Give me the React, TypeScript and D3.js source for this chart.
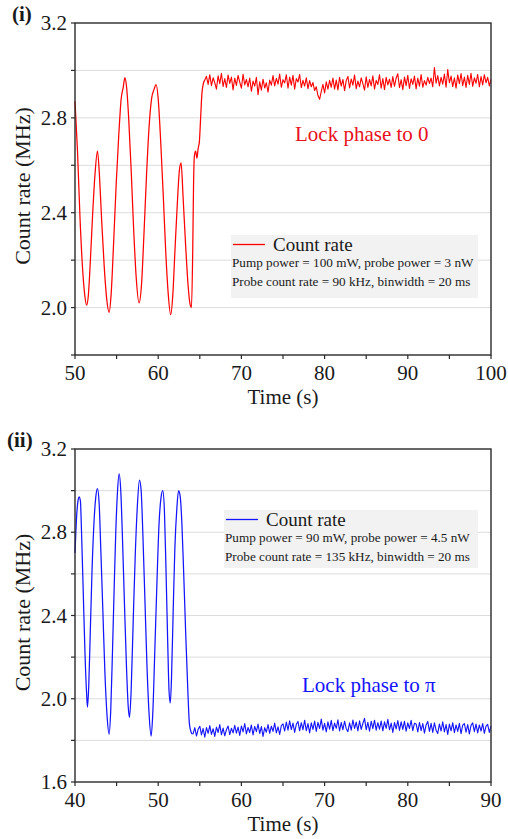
import React from "react";
import * as d3 from "d3";

// ---- Panel (i): lock phase to 0 ----
const oscTimesA = [
  50.0, 50.3, 50.6, 50.9, 51.15, 51.4, 51.6, 51.85, 52.1, 52.4, 52.7, 52.95, 53.2, 53.5, 53.8, 54.1,
  54.35, 54.65, 54.95, 55.25, 55.55, 55.8, 56.0, 56.2, 56.45, 56.75, 57.05, 57.35, 57.7, 58.0, 58.3,
  58.6, 58.9, 59.2, 59.5, 59.75, 60.0, 60.3, 60.6, 60.9, 61.2, 61.5, 61.75, 62.0, 62.3, 62.55, 62.75,
  63.0, 63.3, 63.6, 63.85, 64.0, 64.15, 64.25, 64.35, 64.5, 64.65, 64.8, 64.95, 65.1, 65.25, 65.4, 65.6,
];
const oscValuesA = [
  2.87, 2.66, 2.38, 2.17, 2.06, 2.01, 2.05, 2.2, 2.38, 2.56, 2.66, 2.55, 2.37, 2.18, 2.04, 1.98,
  2.06, 2.28, 2.52, 2.72, 2.88, 2.93, 2.97, 2.93, 2.8, 2.58, 2.33, 2.13, 2.02, 2.1, 2.32,
  2.56, 2.76, 2.88, 2.92, 2.94, 2.88, 2.7, 2.48, 2.24, 2.06, 1.97, 2.05, 2.23, 2.44, 2.58, 2.61,
  2.46, 2.26, 2.09, 2.01, 2.0, 2.24, 2.52, 2.64, 2.66, 2.63, 2.67, 2.7, 2.8, 2.9, 2.94, 2.96,
];
const lockStartA = 65.8;
const binStep = 0.2;
const lockValuesA = [
  2.975, 2.941, 2.982, 2.936, 2.969, 2.948, 2.921, 2.977, 2.944, 2.988,
  2.932, 2.966, 2.928, 2.981, 2.945, 2.972, 2.918, 2.968, 2.937, 2.979,
  2.951, 2.925, 2.984, 2.939, 2.962,
  2.931, 2.968, 2.912, 2.955, 2.934, 2.971, 2.898, 2.952, 2.917, 2.963,
  2.926, 2.948, 2.908, 2.959, 2.938,
  2.978, 2.935, 2.967, 2.942, 2.985, 2.929, 2.961, 2.947, 2.982, 2.925,
  2.972, 2.938, 2.979, 2.921, 2.966, 2.951, 2.983, 2.927, 2.958, 2.934,
  2.969, 2.923, 2.957, 2.931, 2.949, 2.915,
  2.931, 2.894, 2.878, 2.912, 2.941, 2.905, 2.952, 2.921, 2.958,
  2.929, 2.968, 2.921, 2.959, 2.918, 2.971, 2.934, 2.962, 2.915, 2.957,
  2.975, 2.926, 2.964, 2.938, 2.981, 2.923, 2.955, 2.931, 2.969, 2.944,
  2.917, 2.973, 2.928, 2.962, 2.935, 2.977, 2.921, 2.958, 2.941, 2.982,
  2.925, 2.966, 2.919, 2.971, 2.939, 2.963, 2.928, 2.974, 2.933, 2.968,
  2.986, 2.927, 2.961, 2.919, 2.972, 2.936, 2.979, 2.924, 2.965, 2.941,
  2.976, 2.922, 2.968, 2.934, 2.983, 2.929, 2.957, 2.938, 2.971, 2.945,
  2.968, 2.931, 3.012, 2.946, 2.978, 2.935, 2.971, 2.942, 2.985, 2.929,
  3.004, 2.948, 2.976, 2.932, 2.969, 2.925, 2.981, 2.944, 2.987, 2.936,
  2.972, 2.928, 2.979, 2.941, 2.988, 2.933, 2.969, 2.946, 2.983, 2.931,
  2.974, 2.939, 2.982, 2.948, 2.971, 2.935, 2.962,
];

// ---- Panel (ii): lock phase to pi ----
const oscTimesB = [
  40.0, 40.2, 40.4, 40.5, 40.65, 40.8, 41.0, 41.2, 41.4, 41.5, 41.65, 41.85, 42.05, 42.3, 42.5, 42.7,
  42.9, 43.1, 43.35, 43.6, 43.85, 44.1, 44.3, 44.5, 44.7, 44.9, 45.1, 45.3, 45.5, 45.7, 45.95, 46.2,
  46.4, 46.55, 46.75, 47.0, 47.25, 47.5, 47.75, 47.95, 48.15, 48.4, 48.65, 48.9, 49.15, 49.35, 49.6,
  49.85, 50.1, 50.35, 50.55, 50.75, 50.95, 51.15, 51.3, 51.45, 51.6, 51.8, 52.0, 52.25, 52.45, 52.65,
  52.85, 53.05, 53.3, 53.55, 53.75, 53.95, 54.1,
];
const oscValuesB = [
  2.7, 2.88, 2.96, 2.97, 2.95, 2.78, 2.5, 2.22, 2.02, 1.96, 2.06, 2.34, 2.62, 2.86, 2.97, 3.01,
  2.94, 2.72, 2.42, 2.12, 1.92, 1.83, 1.95, 2.22, 2.52, 2.8, 2.99, 3.08, 3.0, 2.78, 2.45, 2.14,
  1.96, 1.91, 2.04, 2.38, 2.7, 2.93, 3.05, 3.0, 2.8, 2.48, 2.16, 1.93, 1.82, 1.93, 2.24,
  2.56, 2.84, 2.97, 3.0, 2.9, 2.6, 2.26, 2.04, 1.98, 2.1, 2.42, 2.72, 2.92, 3.0, 2.97,
  2.84, 2.62, 2.32, 2.05, 1.88, 1.84, 1.83,
];
const lockStartB = 54.2;
const lockValuesB = [
  1.832, 1.861, 1.821, 1.853, 1.868, 1.826, 1.857, 1.815, 1.862, 1.834,
  1.871, 1.829, 1.856, 1.819, 1.864, 1.838, 1.876, 1.827, 1.859, 1.822,
  1.851, 1.869, 1.828, 1.858, 1.836,
  1.872, 1.835, 1.864, 1.824, 1.869, 1.841, 1.881, 1.831, 1.862, 1.838,
  1.874, 1.826, 1.867, 1.842, 1.878, 1.833, 1.866, 1.819, 1.861, 1.839,
  1.876, 1.834, 1.868, 1.843, 1.883, 1.836, 1.865, 1.829, 1.871,
  1.879, 1.845, 1.888, 1.849, 1.894, 1.852, 1.883, 1.838, 1.877, 1.891,
  1.846, 1.885, 1.851, 1.897, 1.847, 1.881, 1.836, 1.884, 1.853, 1.893,
  1.843, 1.887, 1.857, 1.902, 1.849, 1.882, 1.841, 1.889, 1.854, 1.896,
  1.847, 1.883, 1.858, 1.899, 1.845, 1.886, 1.851, 1.892, 1.856, 1.842,
  1.884, 1.849, 1.898, 1.857, 1.888, 1.846, 1.894, 1.853, 1.881, 1.906,
  1.851, 1.887, 1.844, 1.892, 1.856, 1.897, 1.849, 1.885, 1.854, 1.893,
  1.846, 1.889, 1.858, 1.901, 1.851, 1.883, 1.838, 1.886, 1.855, 1.895,
  1.848, 1.889, 1.853, 1.892, 1.844, 1.884, 1.857, 1.896, 1.847, 1.882,
  1.879, 1.841, 1.886, 1.847, 1.881, 1.835, 1.874, 1.891, 1.843, 1.882,
  1.838, 1.884, 1.849, 1.833, 1.879, 1.845, 1.889, 1.841, 1.876, 1.829,
  1.878, 1.846, 1.885, 1.837, 1.874, 1.843, 1.882, 1.832, 1.873, 1.881,
  1.839, 1.876, 1.831, 1.872, 1.884, 1.842, 1.878, 1.836, 1.874, 1.845,
  1.881, 1.834, 1.869, 1.877, 1.838, 1.868,
];

const xTicksA = [50, 60, 70, 80, 90, 100];
const yTicksA = [2.0, 2.4, 2.8, 3.2];
const xTicksB = [40, 50, 60, 70, 80, 90];
const yTicksB = [1.6, 2.0, 2.4, 2.8, 3.2];

const legendTitle = "Count rate";
const infoA = ["Pump power = 100 mW, probe power = 3 nW", "Probe count rate = 90 kHz, binwidth = 20 ms"];
const infoB = ["Pump power = 90 mW, probe power = 4.5 nW", "Probe count rate = 135 kHz, binwidth = 20 ms"];

const FONT = "'Liberation Serif', 'Times New Roman', serif";

type Pt = [number, number];

function oscSeries(ts: number[], vs: number[]): Pt[] {
  return ts.map((t, i) => [t, vs[i]] as Pt);
}

function lockSeries(start: number, lock: number[]): Pt[] {
  return lock.map((v, i) => [+(start + i * binStep).toFixed(2), v] as Pt);
}

interface PanelProps {
  tag: string;
  tagX: number;
  top: number;
  bottom: number;
  xDomain: [number, number];
  yDomain: [number, number];
  xTicks: number[];
  yTicks: number[];
  osc: Pt[];
  lock: Pt[];
  color: string;
  textColor: string;
  info: string[];
  legend: { x: number; y: number; w: number; h: number };
  note: string;
  noteX: number;
  noteY: number;
}

function Panel(p: PanelProps) {
  const left = 75;
  const right = 491;
  const x = d3.scaleLinear().domain(p.xDomain).range([left, right]);
  const y = d3.scaleLinear().domain(p.yDomain).range([p.bottom, p.top]);
  const smooth = d3
    .line<Pt>()
    .x((d) => x(d[0]))
    .y((d) => y(d[1]))
    .curve(d3.curveMonotoneX);
  const raw = d3
    .line<Pt>()
    .x((d) => x(d[0]))
    .y((d) => y(d[1]));

  const minorX = d3.range(p.xDomain[0], p.xDomain[1] + 0.001, 5);
  const minorY = d3.range(p.yDomain[0], p.yDomain[1] + 0.001, 0.2).map((v) => +v.toFixed(2));
  const grid = minorY.filter((v) => v > p.yDomain[0] + 0.01 && v < p.yDomain[1] - 0.01);
  const L = p.legend;
  const lockPath = [p.osc[p.osc.length - 1], ...p.lock];

  return (
    <g>
      {grid.map((v) => (
        <line key={"g" + v} x1={left} x2={right} y1={y(v)} y2={y(v)} stroke="#dcdcdc" strokeWidth={1} />
      ))}
      <rect x={L.x} y={L.y} width={L.w} height={L.h} fill="#f2f2f2" />
      <path d={smooth(p.osc) || ""} fill="none" stroke={p.color} strokeWidth={1.25} strokeLinejoin="round" />
      <path d={raw(lockPath) || ""} fill="none" stroke={p.color} strokeWidth={1.1} strokeLinejoin="round" />
      <rect x={left} y={p.top} width={right - left} height={p.bottom - p.top} fill="none" stroke="#2a2a2a" strokeWidth={1.4} />
      {minorX.map((v) => (
        <line key={"tx" + v} x1={x(v)} x2={x(v)} y1={p.bottom} y2={p.bottom + 4} stroke="#2a2a2a" strokeWidth={1.2} />
      ))}
      {minorY.map((v) => (
        <line key={"ty" + v} x1={left - 4} x2={left} y1={y(v)} y2={y(v)} stroke="#2a2a2a" strokeWidth={1.2} />
      ))}
      {p.xTicks.map((v) => (
        <text key={"lx" + v} x={x(v)} y={p.bottom + 25} textAnchor="middle" fontSize={21} fontFamily={FONT} fill="#1a1a1a">
          {v}
        </text>
      ))}
      {p.yTicks.map((v) => (
        <text key={"ly" + v} x={67} y={y(v) + 7} textAnchor="end" fontSize={21} fontFamily={FONT} fill="#1a1a1a">
          {v.toFixed(1)}
        </text>
      ))}
      <text x={(left + right) / 2} y={p.bottom + 49} textAnchor="middle" fontSize={21} fontFamily={FONT} fill="#1a1a1a">
        Time (s)
      </text>
      <text
        transform={`translate(30, ${(p.top + p.bottom) / 2 - 3}) rotate(-90)`}
        textAnchor="middle"
        fontSize={22}
        fontFamily={FONT}
        fill="#1a1a1a"
      >
        Count rate (MHz)
      </text>
      <text x={p.tagX} y={p.top - 2} fontSize={21} fontWeight="bold" fontFamily={FONT} fill="#1a1a1a">
        {p.tag}
      </text>
      <line x1={L.x + 2} x2={L.x + 34} y1={L.y + 9.5} y2={L.y + 9.5} stroke={p.color} strokeWidth={1.3} />
      <text x={L.x + 42} y={L.y + 16} fontSize={19} fontFamily={FONT} fill="#1a1a1a">
        {legendTitle}
      </text>
      {p.info.map((s, i) => (
        <text key={"i" + i} x={L.x + 1} y={L.y + 32 + i * 19} fontSize={13.2} fontFamily={FONT} fill="#1a1a1a">
          {s}
        </text>
      ))}
      <text x={p.noteX} y={p.noteY} fontSize={21} fontFamily={FONT} fill={p.textColor}>
        {p.note}
      </text>
    </g>
  );
}

export default function App() {
  return (
    <svg width={508} height={839} style={{ position: "absolute", left: 0, top: 0, background: "#fff" }}>
      <Panel
        tag="(i)"
        tagX={12}
        top={23}
        bottom={355}
        xDomain={[50, 100]}
        yDomain={[1.8, 3.2]}
        xTicks={xTicksA}
        yTicks={yTicksA}
        osc={oscSeries(oscTimesA, oscValuesA)}
        lock={lockSeries(lockStartA, lockValuesA)}
        color="#ff0000"
        textColor="#e8101c"
        info={infoA}
        legend={{ x: 231, y: 235, w: 247, h: 63 }}
        note="Lock phase to 0"
        noteX={295}
        noteY={141}
      />
      <Panel
        tag="(ii)"
        tagX={7}
        top={449}
        bottom={782}
        xDomain={[40, 90]}
        yDomain={[1.6, 3.2]}
        xTicks={xTicksB}
        yTicks={yTicksB}
        osc={oscSeries(oscTimesB, oscValuesB)}
        lock={lockSeries(lockStartB, lockValuesB)}
        color="#1414ff"
        textColor="#1414ff"
        info={infoB}
        legend={{ x: 224, y: 510, w: 254, h: 58 }}
        note="Lock phase to π"
        noteX={302}
        noteY={692}
      />
    </svg>
  );
}
